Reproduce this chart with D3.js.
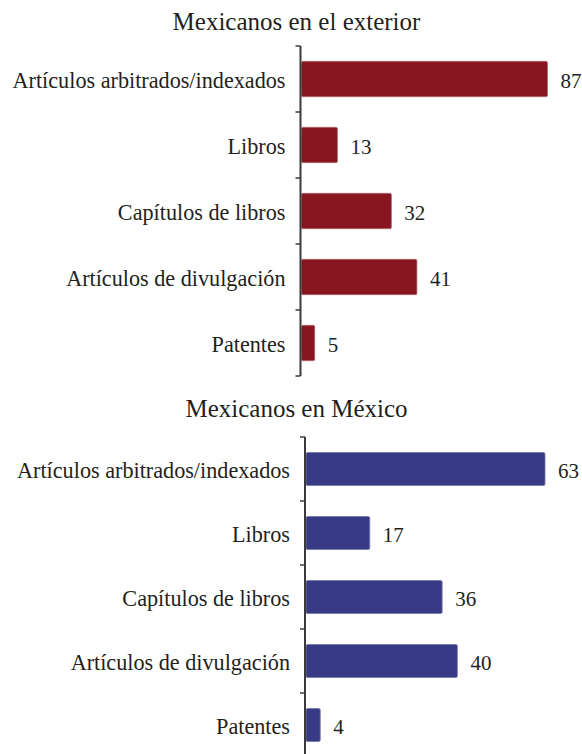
<!DOCTYPE html>
<html>
<head>
<meta charset="utf-8">
<script src="https://cdn.jsdelivr.net/npm/d3@7"></script>
<style>
  html, body { margin: 0; padding: 0; background: #fff; }
  svg { display: block; }
</style>
</head>
<body>
<svg id="chart" width="582" height="754"></svg>
<script>
// Productos académicos por grupo
const categories = [
  "Artículos arbitrados/indexados",
  "Libros",
  "Capítulos de libros",
  "Artículos de divulgación",
  "Patentes"
];
const exteriorValues = [87, 13, 32, 41, 5];
const mexicoValues = [63, 17, 36, 40, 4];
const panelTitles = ["Mexicanos en el exterior", "Mexicanos en México"];

const FONT = "Liberation Serif";
const INK = "#231f20";

const svg = d3.select("#chart");

function drawPanel(cfg) {
  const g = svg.append("g");

  const y = d3.scaleBand()
    .domain(categories)
    .range([cfg.top, cfg.bottom])
    .paddingInner(cfg.padding)
    .paddingOuter(cfg.padding / 2);

  const x = d3.scaleLinear()
    .domain([0, d3.max(cfg.values)])
    .range([cfg.axisX, cfg.maxX]);

  // title
  g.append("text")
    .attr("x", 296.5)
    .attr("y", cfg.titleY)
    .attr("text-anchor", "middle")
    .attr("font-family", FONT)
    .attr("font-size", 25)
    .attr("fill", INK)
    .text(cfg.title);

  // bars
  g.selectAll("rect.bar")
    .data(cfg.values)
    .join("rect")
    .attr("class", "bar")
    .attr("x", x(0) + 1)
    .attr("y", (d, i) => y(categories[i]))
    .attr("width", d => x(d) - x(0) - 1)
    .attr("height", y.bandwidth())
    .attr("rx", 1.5)
    .attr("fill", cfg.color)
    .attr("stroke", cfg.edge)
    .attr("stroke-width", 0.8);

  // value labels
  g.selectAll("text.value")
    .data(cfg.values)
    .join("text")
    .attr("class", "value")
    .attr("x", d => x(d) + 13)
    .attr("y", (d, i) => y(categories[i]) + y.bandwidth() / 2)
    .attr("dy", "0.42em")
    .attr("font-family", FONT)
    .attr("font-size", 21)
    .attr("fill", INK)
    .text(d => d);

  // category labels
  g.selectAll("text.cat")
    .data(categories)
    .join("text")
    .attr("class", "cat")
    .attr("x", cfg.axisX - 15)
    .attr("y", d => y(d) + y.bandwidth() / 2)
    .attr("dy", "0.42em")
    .attr("text-anchor", "end")
    .attr("font-family", FONT)
    .attr("font-size", 22.2)
    .attr("fill", INK)
    .text(d => d);

  // axis line with ticks at band boundaries
  const step = y.step();
  const bounds = d3.range(categories.length + 1).map(i => cfg.top + i * step);
  g.append("line")
    .attr("x1", cfg.axisX).attr("x2", cfg.axisX)
    .attr("y1", cfg.top).attr("y2", cfg.bottom)
    .attr("stroke", "#3a3a3a")
    .attr("stroke-width", 2);
  g.selectAll("line.tick")
    .data(bounds)
    .join("line")
    .attr("class", "tick")
    .attr("x1", cfg.axisX - 5).attr("x2", cfg.axisX)
    .attr("y1", d => d).attr("y2", d => d)
    .attr("stroke", "#3a3a3a")
    .attr("stroke-width", 1.5);
}

drawPanel({
  title: panelTitles[0],
  titleY: 30,
  values: exteriorValues,
  top: 46, bottom: 376,
  padding: 0.465,
  axisX: 300.5, maxX: 547.5,
  color: "#871620",
  edge: "#a9656a"
});

drawPanel({
  title: panelTitles[1],
  titleY: 417,
  values: mexicoValues,
  top: 437, bottom: 757,
  padding: 0.485,
  axisX: 305, maxX: 545,
  color: "#393a85",
  edge: "#7576a8"
});
</script>
</body>
</html>
